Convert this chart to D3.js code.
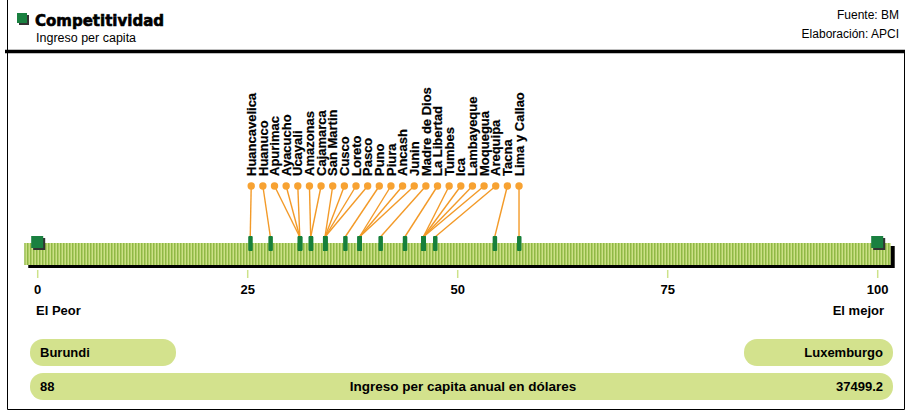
<!DOCTYPE html>
<html>
<head>
<meta charset="utf-8">
<script src="https://cdn.jsdelivr.net/npm/d3@7"></script>
<style>
  body { margin: 0; background: #fff; }
  svg { display: block; }
  text { font-family: "Liberation Sans", Arial, sans-serif; fill: #000; }
</style>
</head>
<body>
<div id="chart"></div>
<script>
// datos (indice 0-100)
const regiones = ["Huancavelica", "Huanuco", "Apurimac", "Ayacucho", "Ucayali", "Amazonas",
  "Cajamarca", "San Martin", "Cusco", "Loreto", "Pasco", "Puno", "Piura", "Ancash", "Junin",
  "Madre de Dios", "La Libertad", "Tumbes", "Ica", "Lambayeque", "Moquegua", "Arequipa",
  "Tacna", "Lima y Callao"];
const valores = [25.3, 27.7, 31.2, 31.2, 31.2, 32.5, 32.5, 34.2, 34.2, 34.2, 34.2, 36.6,
  38.3, 38.3, 38.3, 40.8, 43.7, 45.9, 45.9, 45.9, 45.9, 47.3, 54.4, 57.3];
const ticks = [0, 25, 50, 75, 100];
const extremos = ["El Peor", "El mejor"];
const paises = ["Burundi", "Luxemburgo"];
const ingresos = ["88", "37499.2"];
const titulo = "Competitividad";
const subtitulo = "Ingreso per capita";
const fuente = ["Fuente: BM", "Elaboración: APCI"];
const leyenda = "Ingreso per capita anual en dólares";

const width = 909, height = 412;
const svg = d3.select("#chart").append("svg")
  .attr("width", width).attr("height", height);

const x = d3.scaleLinear().domain([0, 100]).range([37.7, 877.7]);

// patron de franjas de la barra
const defs = svg.append("defs");
const pat = defs.append("pattern").attr("id", "rayas")
  .attr("patternUnits", "userSpaceOnUse").attr("width", 3).attr("height", 10);
pat.append("rect").attr("width", 3).attr("height", 10).attr("fill", "#cbe086");
pat.append("rect").attr("width", 1.5).attr("height", 10).attr("fill", "#8fb845");

// marco
svg.append("path").attr("d", "M7.5,0 V409.5 H904.5 V52")
  .attr("fill", "none").attr("stroke", "#000").attr("stroke-width", 1);
svg.append("line").attr("x1", 5).attr("x2", 905).attr("y1", 51.5).attr("y2", 51.5)
  .attr("stroke", "#000").attr("stroke-width", 3.5);

// encabezado
svg.append("rect").attr("x", 19).attr("y", 15).attr("width", 10).attr("height", 10).attr("fill", "#333");
svg.append("rect").attr("x", 17).attr("y", 13).attr("width", 10).attr("height", 10).attr("fill", "#1a8040");
svg.append("text").attr("x", 35).attr("y", 26)
  .style("font-family", "'DejaVu Sans', sans-serif").style("font-weight", "bold").style("font-size", "15px")
  .attr("stroke", "#000").attr("stroke-width", 0.6)
  .text(titulo);
svg.append("text").attr("x", 36).attr("y", 42).style("font-size", "12.5px").text(subtitulo);
svg.selectAll(".fuente").data(fuente).enter().append("text")
  .attr("x", 899).attr("y", (d, i) => 19 + i * 19)
  .attr("text-anchor", "end").style("font-size", "12px").text(d => d);

// barra con sombra
const y0 = 243, barH = 22;
svg.append("rect").attr("x", x(-1.6) + 4).attr("y", y0 + 3).attr("width", x(101.55) - x(-1.6))
  .attr("height", barH).attr("fill", "#000");
svg.append("rect").attr("x", x(-1.6)).attr("y", y0).attr("width", x(101.55) - x(-1.6))
  .attr("height", barH).attr("fill", "url(#rayas)");

// ticks del eje
svg.selectAll(".tick").data(ticks).enter().append("line")
  .attr("x1", d => x(d)).attr("x2", d => x(d)).attr("y1", 270).attr("y2", 278)
  .attr("stroke", "#cde28a").attr("stroke-width", 1.5);
svg.selectAll(".ticklab").data(ticks).enter().append("text")
  .attr("x", d => x(d)).attr("y", 294).attr("text-anchor", "middle")
  .style("font-weight", "bold").style("font-size", "13px").text(d => d);
svg.selectAll(".extremo").data(extremos).enter().append("text")
  .attr("x", (d, i) => i === 0 ? 36 : 884).attr("y", 315)
  .attr("text-anchor", (d, i) => i === 0 ? "start" : "end")
  .style("font-weight", "bold").style("font-size", "13px").text(d => d);

// cuadros de los extremos
[0, 100].forEach(v => {
  svg.append("rect").attr("x", x(v) - 4.5).attr("y", 238).attr("width", 12).attr("height", 12).attr("fill", "#333");
  svg.append("rect").attr("x", x(v) - 6.5).attr("y", 236).attr("width", 12).attr("height", 12).attr("fill", "#1a8040");
});

// posiciones de etiquetas
const px = d3.scalePoint().domain(regiones)
  .range([x(d3.min(valores)) + 1, x(d3.max(valores))]);
const yDot = 186, yMark = 236;

const datos = regiones.map((r, i) => ({ r: r, v: valores[i] }));

svg.selectAll(".conector").data(datos).enter().append("line")
  .attr("x1", d => px(d.r)).attr("y1", yDot)
  .attr("x2", d => x(d.v)).attr("y2", yMark + 1)
  .attr("stroke", "#f39a28").attr("stroke-width", 1.4);

svg.selectAll(".marca").data(datos).enter().append("rect")
  .attr("x", d => x(d.v) - 2).attr("y", yMark).attr("width", 4.5).attr("height", 15)
  .attr("rx", 1).attr("fill", "#17803b");

svg.selectAll(".punto").data(datos).enter().append("circle")
  .attr("cx", d => px(d.r)).attr("cy", yDot).attr("r", 3.7).attr("fill", "#f7a232");

svg.selectAll(".etiqueta").data(datos).enter().append("text")
  .attr("transform", d => `translate(${px(d.r)},176) rotate(-90)`)
  .attr("dy", "0.36em")
  .style("font-weight", "bold").style("font-size", "13px")
  .attr("stroke", "#000").attr("stroke-width", 0.2)
  .text(d => d.r);

// cajas inferiores
const verde = "#d3e28d";
svg.append("rect").attr("x", 30).attr("y", 339).attr("width", 146).attr("height", 27).attr("rx", 13).attr("fill", verde);
svg.append("rect").attr("x", 744).attr("y", 339).attr("width", 149).attr("height", 27).attr("rx", 13).attr("fill", verde);
svg.append("rect").attr("x", 30).attr("y", 373).attr("width", 863).attr("height", 27).attr("rx", 13).attr("fill", verde);

svg.selectAll(".pais").data(paises).enter().append("text")
  .attr("x", (d, i) => i === 0 ? 40 : 883).attr("y", 357)
  .attr("text-anchor", (d, i) => i === 0 ? "start" : "end")
  .style("font-weight", "bold").style("font-size", "13px").text(d => d);
svg.selectAll(".ingreso").data(ingresos).enter().append("text")
  .attr("x", (d, i) => i === 0 ? 40 : 883).attr("y", 391)
  .attr("text-anchor", (d, i) => i === 0 ? "start" : "end")
  .style("font-weight", "bold").style("font-size", "13px").text(d => d);
svg.append("text").attr("x", 463).attr("y", 391).attr("text-anchor", "middle")
  .style("font-weight", "bold").style("font-size", "13.5px").text(leyenda);
</script>
</body>
</html>
